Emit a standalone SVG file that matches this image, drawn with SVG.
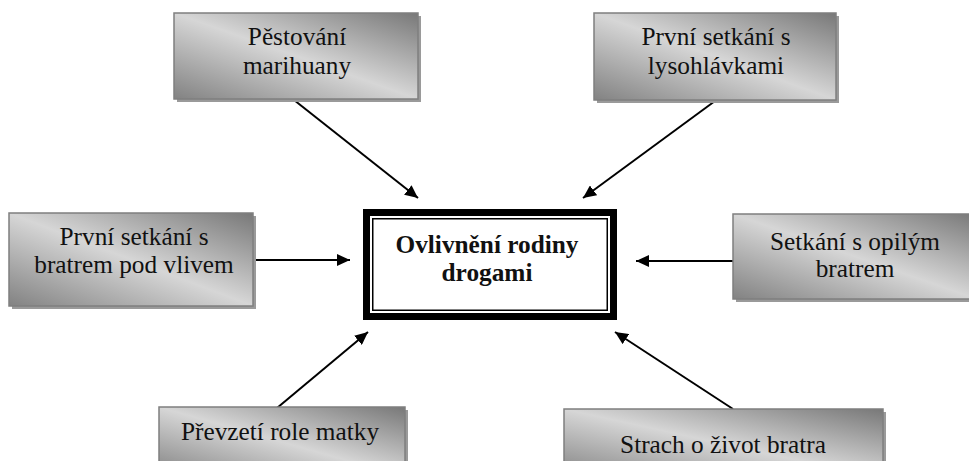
<svg xmlns="http://www.w3.org/2000/svg" width="969" height="461" viewBox="0 0 969 461">
<style>
.box{fill:url(#g);stroke:#7f7f7f;stroke-width:1.5}
.sh{fill:#9a9a9a}
.c{stroke:#000;stroke-width:2;fill:none;marker-end:url(#ah)}
</style>
<defs>
<linearGradient id="g" x1="0" y1="1" x2="1" y2="0">
<stop offset="0" stop-color="#828282"/>
<stop offset="0.5" stop-color="#d6d6d6"/>
<stop offset="1" stop-color="#787878"/>
</linearGradient>
<marker id="ah" markerUnits="userSpaceOnUse" markerWidth="14" markerHeight="12" refX="13" refY="6" orient="auto">
<path d="M0,0 L13,6 L0,12 z" fill="#000"/>
</marker>
</defs>
<rect width="969" height="461" fill="#fff"/>
<g id="connectors">
<line class="c" x1="294" y1="100" x2="418" y2="198"/>
<line class="c" x1="715" y1="101" x2="583" y2="198"/>
<line class="c" x1="254" y1="260" x2="350" y2="260"/>
<line class="c" x1="733" y1="261" x2="636" y2="261"/>
<line class="c" x1="277" y1="408" x2="368" y2="332"/>
<line class="c" x1="733" y1="409" x2="615" y2="332"/>
</g>
<g font-family="'Liberation Serif', 'Times New Roman', 'DejaVu Serif', serif" font-size="25.3" fill="#111" text-anchor="middle">
<g id="n1">
<rect class="sh" x="177" y="16" width="244" height="86"/>
<rect class="box" x="174" y="13" width="244" height="86"/>
<text x="297" y="45">Pěstování</text>
<text x="297" y="74">marihuany</text>
</g>
<g id="n2">
<rect class="sh" x="597" y="16" width="242" height="87"/>
<rect class="box" x="594" y="13" width="242" height="87"/>
<text x="716" y="45">První setkání s</text>
<text x="716" y="74">lysohlávkami</text>
</g>
<g id="n3">
<rect class="sh" x="12" y="216" width="244" height="93"/>
<rect class="box" x="9" y="213" width="244" height="93"/>
<text x="134" y="245">První setkání s</text>
<text x="134" y="273">bratrem pod vlivem</text>
</g>
<g id="center">
<rect x="366.5" y="212.5" width="247" height="104" fill="#fff" stroke="#000" stroke-width="7"/>
<rect x="372.75" y="218.75" width="234.5" height="91.5" fill="none" stroke="#000" stroke-width="1.5"/>
<text x="487" y="253" font-weight="bold">Ovlivnění rodiny</text>
<text x="487" y="281" font-weight="bold">drogami</text>
</g>
<g id="n5">
<rect class="sh" x="736" y="217" width="244" height="85"/>
<rect class="box" x="733" y="214" width="244" height="85"/>
<text x="855" y="250">Setkání s opilým</text>
<text x="855" y="277">bratrem</text>
</g>
<g id="n6">
<rect class="sh" x="162" y="410" width="246" height="70"/>
<rect class="box" x="159" y="407" width="246" height="70"/>
<text x="280" y="440">Převzetí role matky</text>
</g>
<g id="n7">
<rect class="sh" x="567" y="412" width="319" height="70"/>
<rect class="box" x="564" y="409" width="319" height="70"/>
<text x="723" y="453">Strach o život bratra</text>
</g>
</g>
</svg>
